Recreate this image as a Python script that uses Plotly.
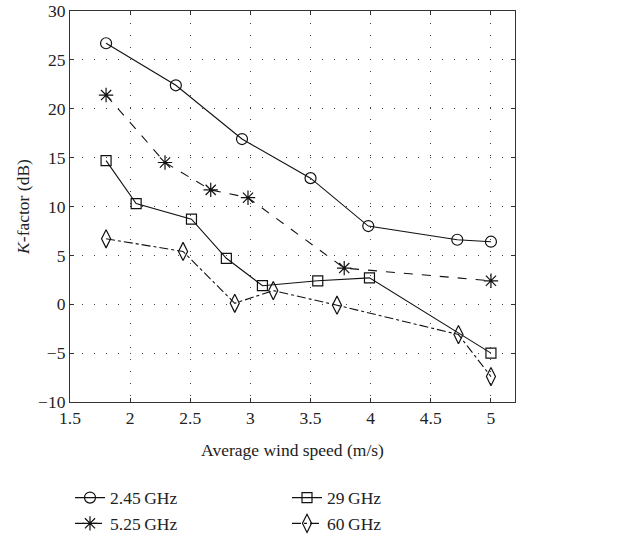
import plotly.graph_objects as go

# Data
x_245 = [1.80, 2.38, 2.93, 3.50, 3.98, 4.72, 5.00]
y_245 = [26.7, 22.4, 16.9, 12.9, 8.0, 6.6, 6.4]

x_525 = [1.80, 2.29, 2.67, 2.98, 3.78, 5.00]
y_525 = [21.4, 14.5, 11.7, 10.9, 3.7, 2.4]

x_29 = [1.80, 2.05, 2.51, 2.80, 3.10, 3.56, 3.99, 5.00]
y_29 = [14.7, 10.3, 8.7, 4.7, 1.9, 2.4, 2.7, -5.0]

x_60 = [1.80, 2.44, 2.87, 3.19, 3.72, 4.73, 5.00]
y_60 = [6.7, 5.4, 0.1, 1.4, -0.1, -3.1, -7.4]

names = ["2.45\u2009GHz", "5.25\u2009GHz", "29\u2009GHz", "60\u2009GHz"]
xticks = [1.5, 2, 2.5, 3, 3.5, 4, 4.5, 5]
yticks = [-10, -5, 0, 5, 10, 15, 20, 25, 30]

FONT = "Liberation Serif"

fig = go.Figure()
series = [
    (x_245, y_245, names[0], "solid", "circle-open", 11, 1),
    (x_525, y_525, names[1], "dash", "asterisk-open", 12, 3),
    (x_29, y_29, names[2], "solid", "square-open", 10, 2),
    (x_60, y_60, names[3], "dashdot", "diamond-tall-open", 13, 4),
]
for xs, ys, nm, dash, sym, sz, rank in series:
    fig.add_trace(go.Scatter(
        x=xs, y=ys, name=nm, mode="lines+markers",
        line=dict(color="#111", width=1.1, dash=dash),
        marker=dict(symbol=sym, size=sz, color="#111",
                    line=dict(color="#111", width=1.2)),
        legendrank=rank,
    ))

axis_common = dict(
    showline=True, linecolor="#333", linewidth=1.2, mirror="ticks",
    ticks="inside", ticklen=4, tickcolor="#333",
    showgrid=True, gridcolor="#444", griddash="1px,11px", gridwidth=1,
    zeroline=False, ticklabeloverflow="allow",
    tickfont=dict(family=FONT, size=17.5, color="#222"),
)

fig.update_xaxes(range=[1.5, 5.2], tickvals=xticks,
                 ticktext=[str(v) for v in xticks],
                 title=dict(text="Average wind speed (m/s)",
                            font=dict(family=FONT, size=17.5, color="#222"),
                            standoff=16),
                 **axis_common)
fig.update_yaxes(range=[-10, 30], tickvals=yticks,
                 ticktext=[("\u2212" + str(-v)) if v < 0 else str(v) for v in yticks],
                 title=dict(text="<i>K</i>-factor (dB)",
                            font=dict(family=FONT, size=17.5, color="#222"),
                            standoff=3),
                 **axis_common)

fig.update_layout(
    width=622, height=539,
    margin=dict(l=70, r=107, t=11, b=137, autoexpand=False),
    paper_bgcolor="white", plot_bgcolor="white",
    showlegend=True,
    legend=dict(orientation="h", x=0.0, xanchor="left",
                yref="container", y=0.11, yanchor="top",
                entrywidth=172, entrywidthmode="pixels",
                font=dict(family=FONT, size=17.5, color="#222"),
                itemwidth=30, tracegroupgap=0, bgcolor="rgba(0,0,0,0)"),
)

fig.write_html("out.html")
